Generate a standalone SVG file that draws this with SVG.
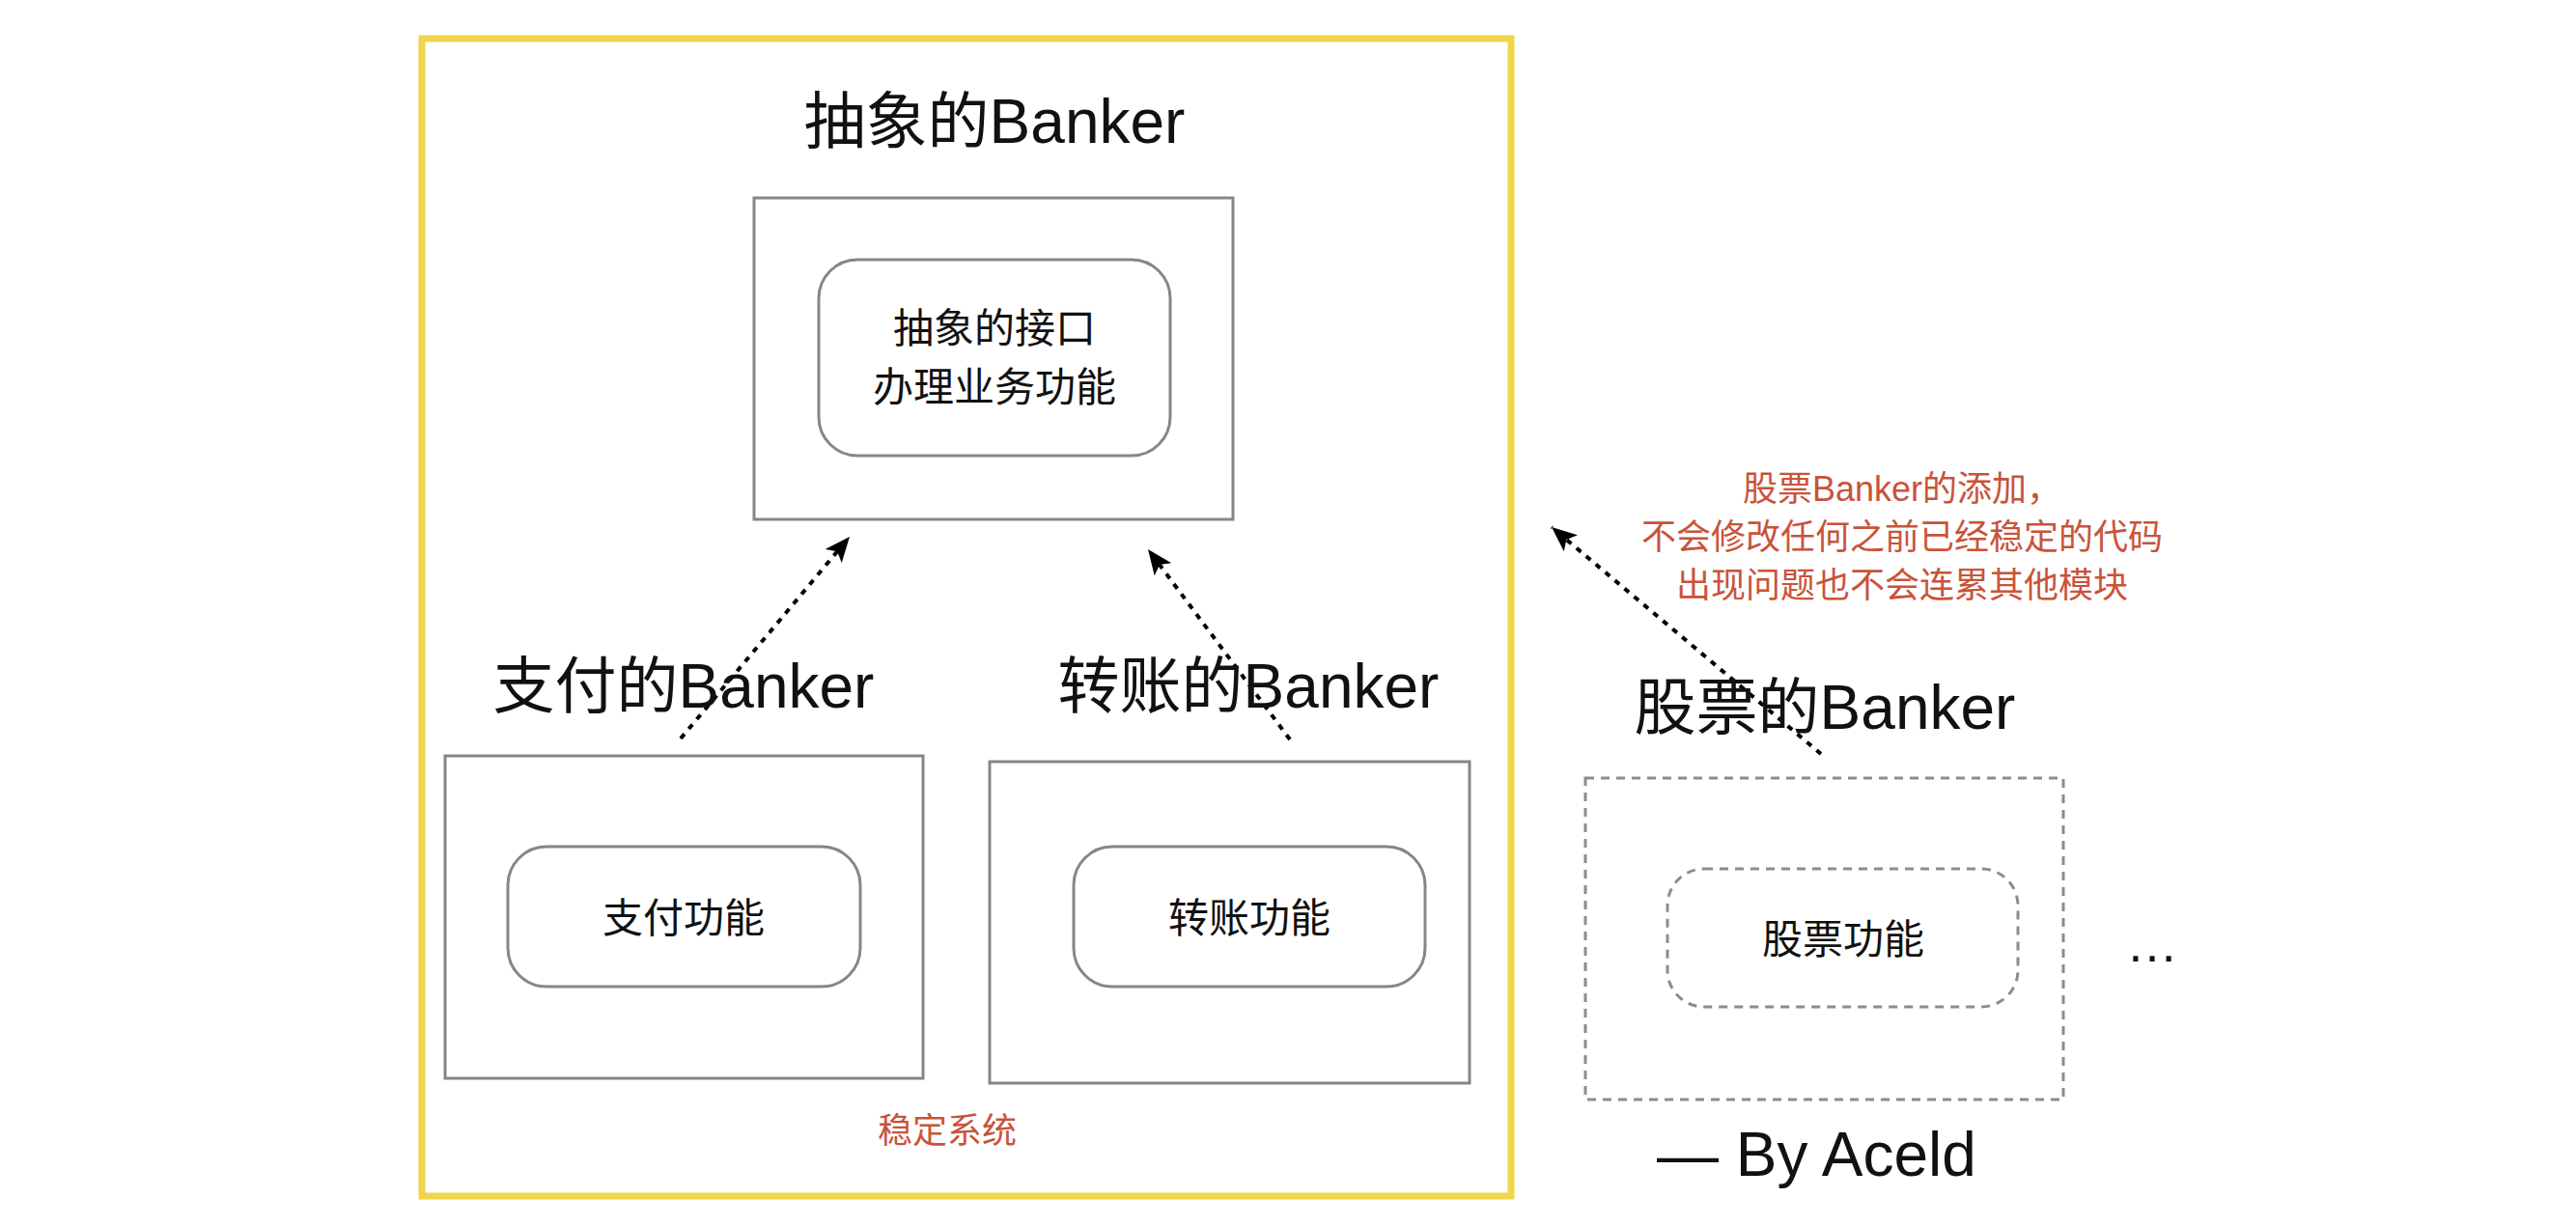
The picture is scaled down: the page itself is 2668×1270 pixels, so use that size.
<svg xmlns="http://www.w3.org/2000/svg" width="2668" height="1270" viewBox="0 0 2668 1270">
<style>
.t{font-family:"Liberation Sans","Noto Sans CJK SC",sans-serif;fill:#111;text-anchor:middle}
.big{font-size:64px}
.mid{font-size:42px}
.red{font-size:36px;fill:#c9533a}
.box{fill:#fff;stroke:#86868a;stroke-width:3}
.dbox{fill:#fff;stroke:#8c8c8c;stroke-width:3;stroke-dasharray:9 7}
.arr{fill:none;stroke:#000;stroke-width:4;stroke-dasharray:6 7;marker-end:url(#ah)}
</style>
<defs>
<marker id="ah" markerUnits="userSpaceOnUse" markerWidth="30" markerHeight="24" refX="26" refY="11" orient="auto">
<path d="M0,0 L26,11 L0,22 L6,11 Z" fill="#000"/>
</marker>
</defs>
<rect width="2668" height="1270" fill="#fff"/>
<g id="stable-system">
<rect x="437" y="40" width="1128" height="1199" fill="none" stroke="#f0d44a" stroke-width="7"/>
<text class="t red" x="981" y="1184">稳定系统</text>
</g>
<g id="abstract-banker">
<text class="t big" x="1030" y="148">抽象的Banker</text>
<rect class="box" x="781" y="205" width="496" height="333"/>
<rect class="box" x="848" y="269" width="364" height="203" rx="40"/>
<text class="t mid" x="1030" y="355">抽象的接口</text>
<text class="t mid" x="1030" y="416">办理业务功能</text>
</g>
<g id="pay-banker">
<rect class="box" x="461" y="783" width="495" height="334"/>
<rect class="box" x="526" y="877" width="365" height="145" rx="40"/>
<text class="t mid" x="708" y="966">支付功能</text>
</g>
<g id="transfer-banker">
<rect class="box" x="1025" y="789" width="497" height="333"/>
<rect class="box" x="1112" y="877" width="364" height="145" rx="40"/>
<text class="t mid" x="1294" y="966">转账功能</text>
</g>
<g id="stock-banker">
<rect class="dbox" x="1642" y="806" width="495" height="333"/>
<rect class="dbox" x="1727" y="900" width="363" height="143" rx="38"/>
<text class="t mid" x="1909" y="988">股票功能</text>
</g>
<g id="connectors">
<line class="arr" x1="705" y1="765" x2="880" y2="556"/>
<line class="arr" x1="1336" y1="766" x2="1189" y2="569"/>
<line class="arr" x1="1886" y1="781" x2="1607" y2="546"/>
</g>
<g id="labels">
<text class="t big" x="708" y="733">支付的Banker</text>
<text class="t big" x="1293" y="733">转账的Banker</text>
<text class="t big" x="1890" y="755">股票的Banker</text>
<text class="t red" x="1970" y="519">股票Banker的添加，</text>
<text class="t red" x="1970" y="569">不会修改任何之前已经稳定的代码</text>
<text class="t red" x="1970" y="619">出现问题也不会连累其他模块</text>
<text class="t" x="2229" y="996" style="font-size:54px">…</text>
<text class="t" x="1716" y="1218" style="font-size:64px;text-anchor:start">— By Aceld</text>
</g>
</svg>
